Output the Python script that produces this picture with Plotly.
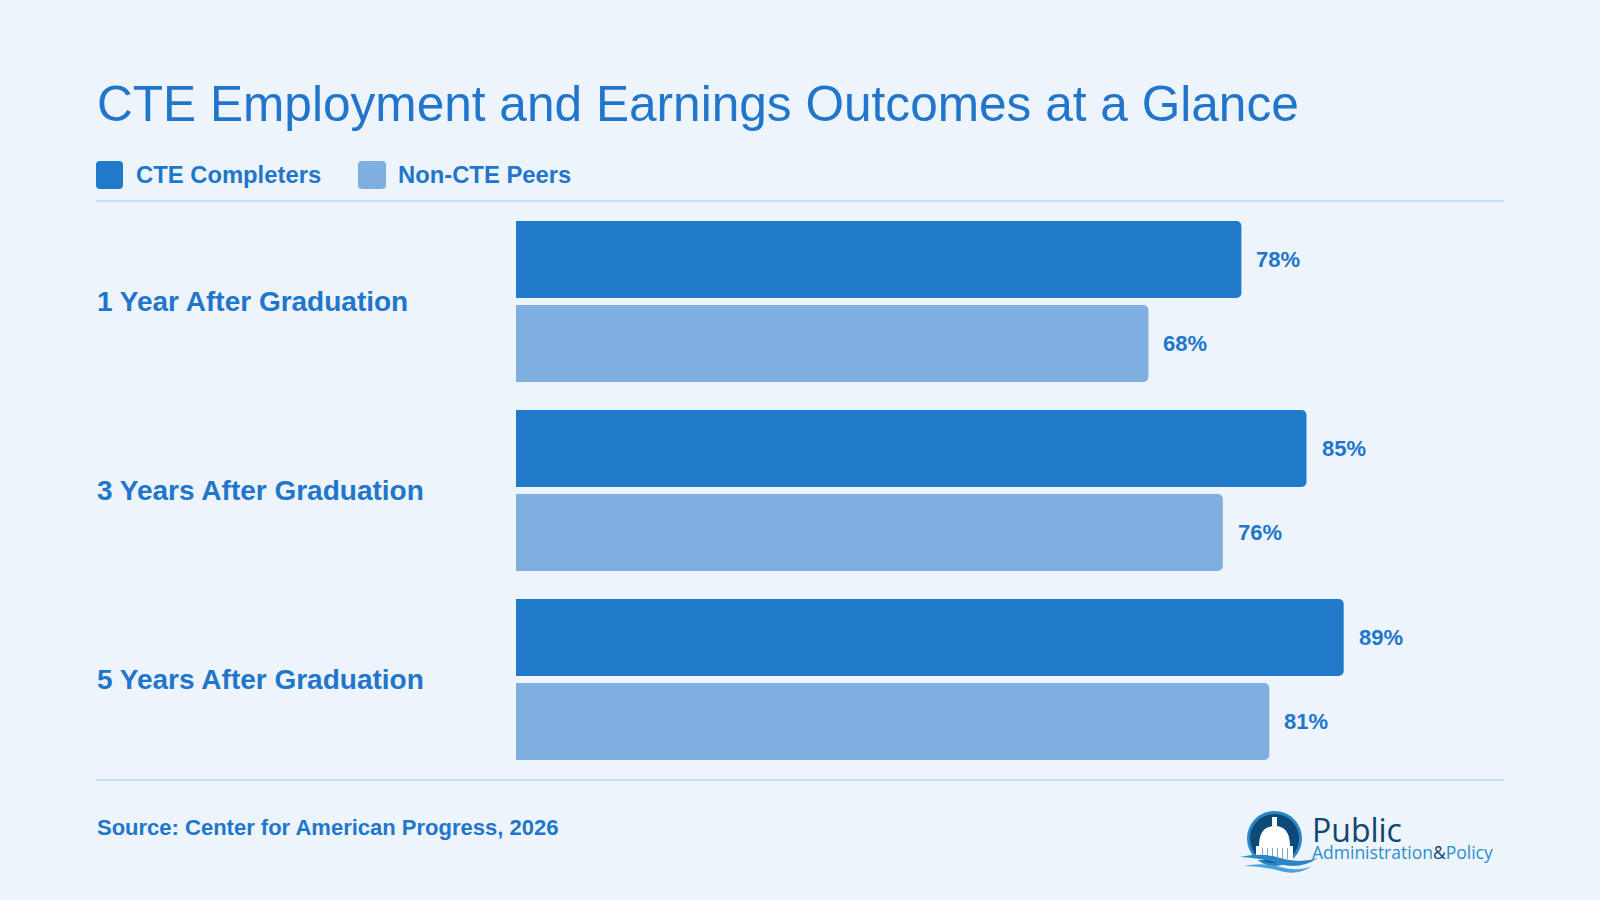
import plotly.graph_objects as go

# ---------------- data ----------------
categories = ["1 Year After Graduation", "3 Years After Graduation", "5 Years After Graduation"]
cte_completers = [78, 85, 89]
non_cte_peers = [68, 76, 81]
series_names = ["CTE Completers", "Non-CTE Peers"]
title_text = "CTE Employment and Earnings Outcomes at a Glance"
source_text = "Source: Center for American Progress, 2026"

# ---------------- style ----------------
W, H = 1600, 900
BG = "#EDF4FC"
TXT = "#2176CC"
DARK = "#2079C9"
LIGHT = "#7FAFE0"
RULE = "#C8DEF2"
FONT = "Liberation Sans, Arial, Helvetica, sans-serif"


def px(x):
    return x / W


def py(y):
    return 1 - y / H


fig = go.Figure()
fig.add_trace(go.Bar(y=categories, x=cte_completers, orientation="h", name=series_names[0],
                     marker=dict(color=DARK, line=dict(width=0)), hoverinfo="skip"))
fig.add_trace(go.Bar(y=categories, x=non_cte_peers, orientation="h", name=series_names[1],
                     marker=dict(color=LIGHT, line=dict(width=0)), hoverinfo="skip"))

annotations = []
# value labels
for cat, v in zip(categories, cte_completers):
    annotations.append(dict(x=v, y=cat, xref="x", yref="y", text=f"<b>{v}%</b>", showarrow=False,
                            xanchor="left", yanchor="middle", xshift=13, yshift=42,
                            font=dict(size=22, color=TXT, family=FONT)))
for cat, v in zip(categories, non_cte_peers):
    annotations.append(dict(x=v, y=cat, xref="x", yref="y", text=f"<b>{v}%</b>", showarrow=False,
                            xanchor="left", yanchor="middle", xshift=13, yshift=-42,
                            font=dict(size=22, color=TXT, family=FONT)))
# category labels
for cat in categories:
    annotations.append(dict(x=px(95), y=cat, xref="paper", yref="y", text=f"<b>{cat}</b>",
                            showarrow=False, xanchor="left", yanchor="middle",
                            font=dict(size=28, color=TXT, family=FONT)))
# title
annotations.append(dict(x=px(95), y=py(104), xref="paper", yref="paper", text=title_text,
                        showarrow=False, xanchor="left", yanchor="middle",
                        font=dict(size=49.6, color=TXT, family=FONT)))
# legend text
annotations.append(dict(x=px(134), y=py(174), xref="paper", yref="paper", text=f"<b>{series_names[0]}</b>",
                        showarrow=False, xanchor="left", yanchor="middle",
                        font=dict(size=23.8, color=TXT, family=FONT)))
annotations.append(dict(x=px(396), y=py(174), xref="paper", yref="paper", text=f"<b>{series_names[1]}</b>",
                        showarrow=False, xanchor="left", yanchor="middle",
                        font=dict(size=23.8, color=TXT, family=FONT)))
# source
annotations.append(dict(x=px(95), y=py(827), xref="paper", yref="paper", text=f"<b>{source_text}</b>",
                        showarrow=False, xanchor="left", yanchor="middle",
                        font=dict(size=22, color=TXT, family=FONT)))
# logo text (one two-line block)
annotations.append(dict(x=px(1310), y=py(836), xref="paper", yref="paper",
                        text="<span style='font-size:32px;color:#12466E'>Public</span><br>"
                             "<span style='font-size:17.5px'>Administration"
                             "<span style='color:#12466E'>&</span>Policy</span>",
                        showarrow=False, xanchor="left", yanchor="middle", align="left",
                        font=dict(size=13, color="#2A8FD0", family="Open Sans, sans-serif")))


def rounded_rect(x0, y0, x1, y1, r):
    pts = [
        f"M {px(x0 + r)},{py(y0)}",
        f"L {px(x1 - r)},{py(y0)}",
        f"Q {px(x1)},{py(y0)} {px(x1)},{py(y0 + r)}",
        f"L {px(x1)},{py(y1 - r)}",
        f"Q {px(x1)},{py(y1)} {px(x1 - r)},{py(y1)}",
        f"L {px(x0 + r)},{py(y1)}",
        f"Q {px(x0)},{py(y1)} {px(x0)},{py(y1 - r)}",
        f"L {px(x0)},{py(y0 + r)}",
        f"Q {px(x0)},{py(y0)} {px(x0 + r)},{py(y0)}",
        "Z",
    ]
    return " ".join(pts)


shapes = [
    # rules
    dict(type="line", xref="paper", yref="paper", x0=px(96), x1=px(1504), y0=py(201), y1=py(201),
         line=dict(color=RULE, width=2)),
    dict(type="line", xref="paper", yref="paper", x0=px(96), x1=px(1504), y0=py(780), y1=py(780),
         line=dict(color=RULE, width=2)),
    # legend swatches
    dict(type="path", xref="paper", yref="paper", path=rounded_rect(96, 161, 123, 189, 4),
         fillcolor=DARK, line=dict(width=0)),
    dict(type="path", xref="paper", yref="paper", path=rounded_rect(358, 161, 386, 189, 4),
         fillcolor=LIGHT, line=dict(width=0)),
    # logo emblem
    dict(type="circle", xref="paper", yref="paper", x0=px(1247), x1=px(1302), y0=py(811), y1=py(866),
         fillcolor="#2B86C5", line=dict(width=0)),
    dict(type="circle", xref="paper", yref="paper", x0=px(1250), x1=px(1299), y0=py(814), y1=py(863),
         fillcolor="#0E4A78", line=dict(width=0)),
    # dome
    dict(type="path", xref="paper", yref="paper",
         path=f"M {px(1259)},{py(846)} Q {px(1259)},{py(826)} {px(1274.5)},{py(826)} "
              f"Q {px(1290)},{py(826)} {px(1290)},{py(846)} Z",
         fillcolor="white", line=dict(width=0)),
    dict(type="rect", xref="paper", yref="paper", x0=px(1272), x1=px(1277), y0=py(826), y1=py(817),
         fillcolor="white", line=dict(width=0)),
    dict(type="rect", xref="paper", yref="paper", x0=px(1256), x1=px(1293), y0=py(846), y1=py(860),
         fillcolor="white", line=dict(width=0)),
]
for cx in [1261, 1266, 1271, 1276, 1281, 1286]:
    shapes.append(dict(type="line", xref="paper", yref="paper", x0=px(cx + 1.5), x1=px(cx + 1.5),
                       y0=py(848), y1=py(859), line=dict(color="#7FA8C8", width=1)))
# waves
shapes.append(dict(type="path", xref="paper", yref="paper",
                   path=f"M {px(1240)},{py(857)} Q {px(1262)},{py(852)} {px(1280)},{py(858)} "
                        f"Q {px(1300)},{py(864)} {px(1318)},{py(858)} "
                        f"Q {px(1300)},{py(870)} {px(1280)},{py(864)} "
                        f"Q {px(1262)},{py(858)} {px(1240)},{py(857)} Z",
                   fillcolor="#2B86C5", line=dict(width=0)))
shapes.append(dict(type="path", xref="paper", yref="paper",
                   path=f"M {px(1244)},{py(866)} Q {px(1262)},{py(862)} {px(1280)},{py(867)} "
                        f"Q {px(1298)},{py(872)} {px(1312)},{py(866)} "
                        f"Q {px(1298)},{py(876)} {px(1280)},{py(871)} "
                        f"Q {px(1262)},{py(866)} {px(1244)},{py(866)} Z",
                   fillcolor="#4AA3DA", line=dict(width=0)))

fig.update_layout(
    width=W, height=H, autosize=False,
    margin=dict(l=0, r=0, t=0, b=0, pad=0),
    paper_bgcolor=BG, plot_bgcolor=BG,
    barmode="group", bargap=0.111, bargroupgap=0.083, barcornerradius=5,
    showlegend=False,
    xaxis=dict(domain=[px(516), px(1446)], range=[0, 100], visible=False, fixedrange=True),
    yaxis=dict(domain=[py(774), py(207)], type="category", categoryorder="array",
               categoryarray=categories, range=[2.5, -0.5], visible=False, fixedrange=True),
    annotations=annotations,
    shapes=shapes,
    font=dict(family=FONT, color=TXT),
)

fig.write_html("out.html")
